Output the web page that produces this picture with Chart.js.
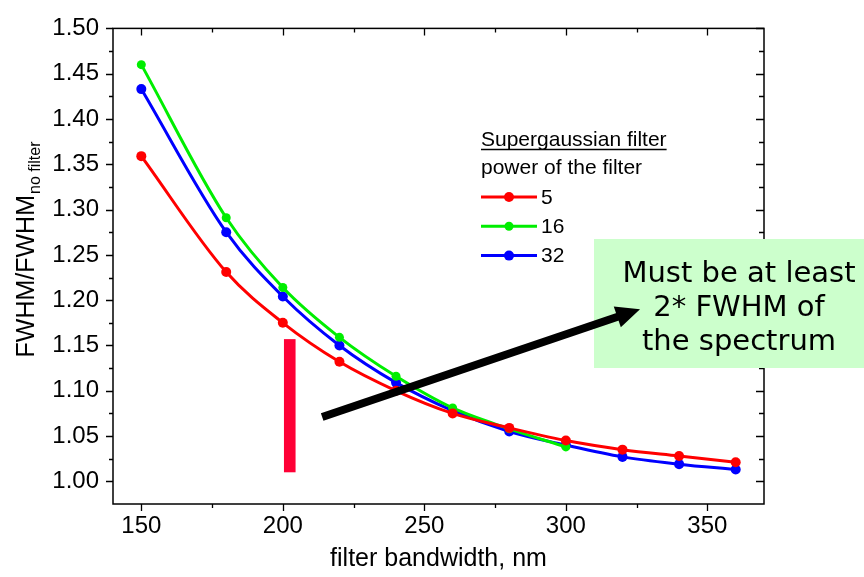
<!DOCTYPE html>
<html lang="en">
<head>
<meta charset="UTF-8">
<title>FWHM ratio vs filter bandwidth</title>
<script src="https://cdn.jsdelivr.net/npm/chart.js@4.4.1/dist/chart.umd.min.js"></script>
<style>
  html, body { margin: 0; padding: 0; background: #fff; }
  #wrap { width: 864px; height: 577px; position: relative; }
</style>
</head>
<body>
<div id="wrap"><canvas id="chart"></canvas></div>
<script>
// filter bandwidth (nm) and FWHM / FWHM(no filter) for each filter power
const bandwidth = [150, 180, 200, 220, 240, 260, 280, 300, 320, 340, 360];
const power5  = [1.359, 1.231, 1.175, 1.132, 1.100, 1.075, 1.059, 1.045, 1.035, 1.028, 1.021];
const power16 = [1.460, 1.291, 1.214, 1.159, 1.116, 1.081, 1.058, 1.038];
const power32 = [1.433, 1.275, 1.204, 1.150, 1.109, 1.078, 1.055, 1.040, 1.027, 1.019, 1.013];
const seriesNames = ['5', '16', '32'];

const xTicks = [150, 200, 250, 300, 350];
const xMinorTicks = [175, 225, 275, 325];
const yTicks = [1.00, 1.05, 1.10, 1.15, 1.20, 1.25, 1.30, 1.35, 1.40, 1.45, 1.50];
const yMinorTicks = [1.025, 1.075, 1.125, 1.175, 1.225, 1.275, 1.325, 1.375, 1.425, 1.475];

const legendTitle = 'Supergaussian filter';
const legendSubtitle = 'power of the filter';
const noteLines = ['Must be at least', '2* FWHM of', 'the spectrum'];

const FONT = '"Liberation Sans", Arial, sans-serif';
const colors = ['#ff0000', '#00ee00', '#0000ff'];

function toPoints(ys) {
    return ys.map((v, i) => ({ x: bandwidth[i], y: v }));
}

const datasets = [power5, power16, power32].map((ys, i) => ({
    label: seriesNames[i],
    data: toPoints(ys),
    borderColor: colors[i],
    backgroundColor: colors[i],
    borderWidth: 3,
    pointRadius: i === 1 ? 4.5 : 5,
    pointBorderWidth: 0,
    cubicInterpolationMode: 'monotone'
}));

const decorations = {
    id: 'decorations',
    afterDraw(chart) {
        const { ctx, chartArea: a, scales: { x, y } } = chart;
        ctx.save();
        ctx.strokeStyle = '#000';
        ctx.lineWidth = 1.5;
        ctx.strokeRect(a.left, a.top, a.right - a.left, a.bottom - a.top);

        // major / minor ticks, outside on left+bottom, inside on top+right
        ctx.lineWidth = 1.3;
        ctx.beginPath();
        const tickX = (vals, outLen, inLen) => vals.forEach(v => {
            const px = Math.round(x.getPixelForValue(v)) + 0.5;
            ctx.moveTo(px, a.bottom); ctx.lineTo(px, a.bottom + outLen);
            ctx.moveTo(px, a.top); ctx.lineTo(px, a.top + inLen);
        });
        const tickY = (vals, outLen, inLen) => vals.forEach(v => {
            const py = Math.round(y.getPixelForValue(v)) + 0.5;
            ctx.moveTo(a.left, py); ctx.lineTo(a.left - outLen, py);
            ctx.moveTo(a.right, py); ctx.lineTo(a.right - inLen, py);
        });
        tickX(xTicks, 7, 7);
        tickX(xMinorTicks, 4, 4);
        tickY(yTicks, 7, 8);
        tickY(yMinorTicks, 4, 5);
        ctx.stroke();

        // red marker bar at ~200 nm
        const bx0 = x.getPixelForValue(200.4), bx1 = x.getPixelForValue(204.5);
        const by0 = y.getPixelForValue(1.157), by1 = y.getPixelForValue(1.010);
        ctx.fillStyle = '#ff0036';
        ctx.fillRect(bx0, by0, bx1 - bx0, by1 - by0);

        // y axis title with subscript
        ctx.fillStyle = '#000';
        ctx.translate(27, 250);
        ctx.rotate(-Math.PI / 2);
        ctx.textBaseline = 'middle';
        ctx.font = '25px ' + FONT;
        const mainTxt = 'FWHM/FWHM', subTxt = 'no filter';
        const w1 = ctx.measureText(mainTxt).width;
        ctx.font = '16px ' + FONT;
        const w2 = ctx.measureText(subTxt).width;
        const sx = -(w1 + w2) / 2;
        ctx.font = '25px ' + FONT;
        ctx.fillText(mainTxt, sx, 0);
        ctx.font = '16px ' + FONT;
        ctx.fillText(subTxt, sx + w1 + 1, 9);
        ctx.setTransform(1, 0, 0, 1, 0, 0);

        // legend
        const lx = 481;
        ctx.textAlign = 'left';
        ctx.textBaseline = 'alphabetic';
        ctx.font = '21px ' + FONT;
        ctx.fillText(legendTitle, lx, 146);
        const tw = ctx.measureText(legendTitle).width;
        ctx.lineWidth = 1.5;
        ctx.beginPath();
        ctx.moveTo(lx, 149.5); ctx.lineTo(lx + tw, 149.5);
        ctx.stroke();
        ctx.fillText(legendSubtitle, lx, 174);
        ctx.textBaseline = 'middle';
        datasets.forEach((ds, i) => {
            const ly = 197 + i * 29.3;
            ctx.strokeStyle = ds.borderColor;
            ctx.lineWidth = 3;
            ctx.beginPath();
            ctx.moveTo(lx, ly); ctx.lineTo(lx + 56, ly);
            ctx.stroke();
            ctx.fillStyle = ds.backgroundColor;
            ctx.beginPath();
            ctx.arc(lx + 28, ly, ds.pointRadius, 0, Math.PI * 2);
            ctx.fill();
            ctx.fillStyle = '#000';
            ctx.fillText(ds.label, lx + 60, ly + 1);
        });

        // green note box
        ctx.fillStyle = '#ccffcc';
        ctx.fillRect(594, 239, chart.width - 594, 129);
        ctx.fillStyle = '#000';
        ctx.textAlign = 'center';
        ctx.textBaseline = 'alphabetic';
        ctx.font = '29px "DejaVu Sans", sans-serif';
        noteLines.forEach((t, i) => ctx.fillText(t, 739, 282 + i * 34));

        // black arrow pointing into the note
        const ax0 = x.getPixelForValue(213.9), ay0 = y.getPixelForValue(1.071);
        const ax1 = x.getPixelForValue(326.2), ay1 = y.getPixelForValue(1.190);
        const ang = Math.atan2(ay1 - ay0, ax1 - ax0);
        const headLen = 24, headW = 11;
        const hx = ax1 - headLen * Math.cos(ang), hy = ay1 - headLen * Math.sin(ang);
        ctx.strokeStyle = '#000';
        ctx.lineWidth = 8;
        ctx.beginPath();
        ctx.moveTo(ax0, ay0);
        ctx.lineTo(hx + 2 * Math.cos(ang), hy + 2 * Math.sin(ang));
        ctx.stroke();
        ctx.beginPath();
        ctx.moveTo(ax1, ay1);
        ctx.lineTo(hx - headW * Math.sin(ang), hy + headW * Math.cos(ang));
        ctx.lineTo(hx + headW * Math.sin(ang), hy - headW * Math.cos(ang));
        ctx.closePath();
        ctx.fill();
        ctx.restore();
    }
};

new Chart(document.getElementById('chart'), {
    type: 'line',
    data: { datasets },
    options: {
        responsive: true,
        maintainAspectRatio: false,
        animation: false,
        layout: { padding: { top: 19, right: 100, left: 0, bottom: 0 } },
        plugins: { legend: { display: false }, tooltip: { enabled: false } },
        scales: {
            x: {
                type: 'linear',
                min: 140,
                max: 370,
                afterBuildTicks: s => { s.ticks = xTicks.map(v => ({ value: v })); },
                afterFit: s => { s.height = 73; },
                grid: { drawOnChartArea: false, drawTicks: false },
                border: { display: false },
                ticks: { color: '#000', padding: 8, font: { family: FONT, size: 24 } },
                title: {
                    display: true,
                    text: 'filter bandwidth, nm',
                    color: '#000',
                    font: { family: FONT, size: 25 },
                    padding: { top: 0, bottom: 3 }
                }
            },
            y: {
                type: 'linear',
                min: 0.975,
                max: 1.5,
                afterBuildTicks: s => { s.ticks = yTicks.map(v => ({ value: v })); },
                afterFit: s => { s.width = 113; },
                grid: { drawOnChartArea: false, drawTicks: false },
                border: { display: false },
                ticks: {
                    color: '#000',
                    padding: 14,
                    font: { family: FONT, size: 24 },
                    callback: v => v.toFixed(2)
                }
            }
        }
    },
    plugins: [decorations]
});
</script>
</body>
</html>
